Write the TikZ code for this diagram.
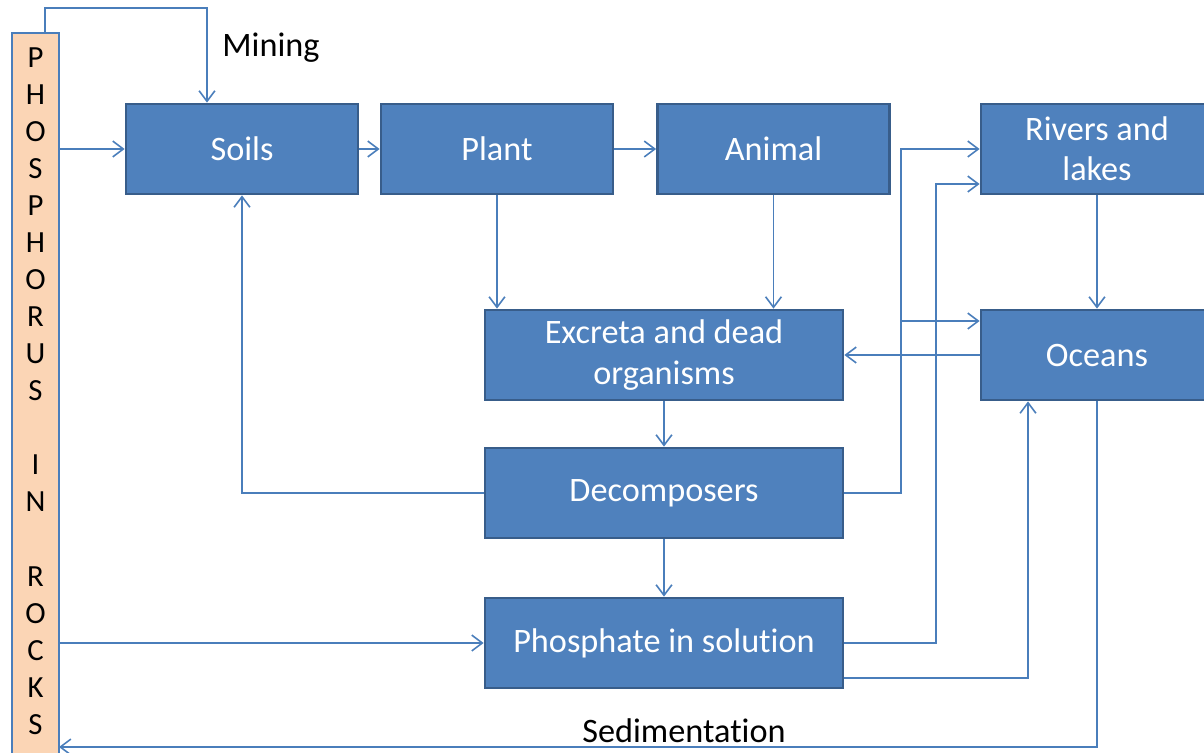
\documentclass[tikz,border=0pt]{standalone}
\usepackage{fontspec}
\setmainfont{Carlito}[RawFeature={-liga;-clig;-calt}]
\usetikzlibrary{arrows.meta}
\definecolor{boxblue}{HTML}{4F81BD}
\definecolor{boxedge}{HTML}{385D8A}
\definecolor{linkblue}{HTML}{4A7EBB}
\definecolor{rockpeach}{HTML}{FBD5B5}
\tikzset{
  stage/.style={draw=boxedge, line width=1.6pt, fill=boxblue, text=white,
    minimum width=4.64cm, minimum height=1.8cm, align=center,
    font=\fontsize{19.5}{23}\selectfont},
  widestage/.style={stage, minimum width=7.16cm},
  flow/.style={draw=linkblue, line width=0.9pt,
    -{Straight Barb[length=6pt,width=9pt]}},
  link/.style={draw=linkblue, line width=0.9pt}
}
\begin{document}
\begin{tikzpicture}[x=0.02cm,y=-0.02cm]
  \useasboundingbox (0,0) rectangle (1204,752);
  % rock column
  \node [draw=linkblue, line width=1pt, fill=rockpeach, minimum width=0.94cm,
    minimum height=15cm, anchor=north] (rocks) at (35.5,32) {};
  \node [font=\fontsize{17.5}{21.1}\selectfont, align=center] (rockstext) at (35.5,391)
    {P\\H\\O\\S\\P\\H\\O\\R\\U\\S\\\mbox{}\\I\\N\\\mbox{}\\R\\O\\C\\K\\S};
  % stages
  \node [stage] (soils) at (242,149) {Soils};
  \node [stage] (plant) at (497,149) {Plant};
  \node [stage] (animal) at (773.5,149) {Animal};
  \node [stage] (rivers) at (1097,149) {Rivers and\\lakes};
  \node [widestage] (excreta) at (664,355) {Excreta and dead\\organisms};
  \node [stage] (oceans) at (1097,355) {Oceans};
  \node [widestage] (decomp) at (664,493) {Decomposers};
  \node [widestage] (phos) at (664,643) {Phosphate in solution};
  % labels
  \node [font=\fontsize{19.5}{23}\selectfont] (mining) at (271,48) {Mining};
  \node [font=\fontsize{19.5}{23}\selectfont] (sediment) at (684,731) {Sedimentation};
  % turning points
  \coordinate (mineA) at (45,8);
  \coordinate (mineB) at (207,8);
  \coordinate (jA) at (901,493);
  \coordinate (jB) at (901,321);
  \coordinate (jC) at (936,184);
  \coordinate (jD) at (1028,678);
  \coordinate (jE) at (59,747);
  % links
  \draw [flow] (rocks.north -| mineA) -- (mineA) -- (mineB) -- (mineB |- soils.north);
  \draw [flow] (rocks.east |- soils.west) -- (soils.west);
  \draw [flow] (soils) -- (plant);
  \draw [flow] (plant) -- (animal);
  \draw [flow] (plant.south) -- (plant.south |- excreta.north);
  \draw [flow] (animal.south) -- (animal.south |- excreta.north);
  \draw [flow] (excreta) -- (decomp);
  \draw [flow] (decomp) -- (phos);
  \draw [flow] (decomp.west) -| (soils.south);
  \draw [flow] (decomp.east) -- (decomp.east -| jA) |- (rivers.west);
  \draw [flow] (jB) -- (jB -| oceans.west);
  \draw [flow] (phos.east) -| (jC) -- (jC -| rivers.west);
  \draw [flow] (jD -| phos.east) -- (jD) -- (jD |- oceans.south);
  \draw [flow] (oceans) -- (excreta);
  \draw [flow] (rivers) -- (oceans);
  \draw [flow] (oceans.south) |- (jE);
  \draw [flow] (rocks.east |- phos.west) -- (phos.west);
\end{tikzpicture}
\end{document}
